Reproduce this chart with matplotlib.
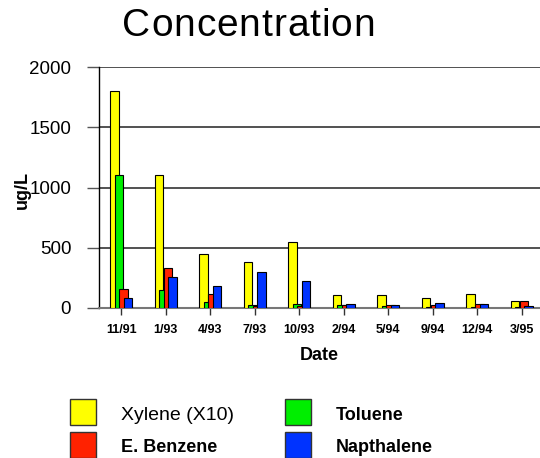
import matplotlib
matplotlib.use("Agg")
import matplotlib.pyplot as plt
from matplotlib.patches import Rectangle
import numpy as np

plt.rcParams['font.family'] = ['Liberation Sans', 'DejaVu Sans']

dates = ["11/91", "1/93", "4/93", "7/93", "10/93", "2/94", "5/94", "9/94", "12/94", "3/95"]
xylene_x10 = [1800, 1100, 450, 380, 550, 110, 110, 85, 120, 60]
toluene = [1100, 150, 50, 25, 30, 25, 20, 10, 10, 10]
ebenzene = [160, 330, 120, 20, 20, 25, 25, 25, 35, 60]
napthalene = [85, 260, 180, 300, 220, 35, 25, 45, 30, 20]

series_names = ["Xylene (X10)", "Toluene", "E. Benzene", "Napthalene"]
colors = ["#FFFF00", "#00EE00", "#FF2200", "#0033FF"]

W, H = 540, 458
fig = plt.figure(figsize=(W / 100, H / 100), dpi=100)
ax = fig.add_axes([99 / W, 1 - 308 / H, 441 / W, 241 / H])

x = np.arange(len(dates))
offsets = [-0.15, -0.05, 0.05, 0.15]
width = 0.19
for vals, off, c in zip([xylene_x10, toluene, ebenzene, napthalene], offsets, colors):
    ax.bar(x + off, vals, width=width, color=c, edgecolor="black", linewidth=0.8, zorder=3)

ax.set_xlim(-0.5, 9.41)
ax.set_ylim(0, 2000)
ax.set_yticks([0, 500, 1000, 1500, 2000])
ax.set_yticklabels(["0", "500", "1000", "1500", "2000"], fontsize=13.5)
ax.set_xticks(x)
ax.set_xticklabels(dates, fontsize=9, fontweight="bold")
ax.tick_params(axis="y", length=9, width=1, color="#555555", pad=11)
ax.tick_params(axis="x", length=5, width=1, color="#333333", pad=6.5)
ax.yaxis.grid(True, color="#333333", linewidth=1.2, zorder=0)
ax.set_axisbelow(True)
for s in ["top", "right"]:
    ax.spines[s].set_visible(False)
ax.spines["left"].set_color("black")
ax.spines["left"].set_linewidth(1)
ax.spines["bottom"].set_color("#777777")
ax.spines["bottom"].set_linewidth(1.5)

fig.text(319 / W, 1 - 356 / H, "Date", fontsize=13, fontweight="bold", ha="center", va="center")
fig.text(22.5 / W, 1 - 190 / H, "ug/L", rotation=90, fontsize=13, fontweight="bold",
         ha="center", va="center")

# title with slightly wide letter spacing
title = "Concentration"
t_left, t_right, t_y = 122, 375, 26
tmp = [fig.text(0, 0, ch, fontsize=28) for ch in title]
renderer = fig.canvas.get_renderer()
widths = [t.get_window_extent(renderer).width for t in tmp]
for t in tmp:
    t.remove()
gap = ((t_right - t_left) - sum(widths)) / (len(title) - 1)
cx = t_left
for ch, w in zip(title, widths):
    fig.text(cx / W, 1 - t_y / H, ch, fontsize=28, ha="left", va="center")
    cx += w + gap

# legend
leg = [
    (70, 399, 0, 415, False, 14),
    (285, 399, 1, 415, True, 13),
    (70, 432, 2, 448, True, 13),
    (285, 432, 3, 448, True, 13),
]
for (px, py, idx, ty, bold, fs) in leg:
    fig.add_artist(Rectangle((px / W, 1 - (py + 26) / H), 26 / W, 26 / H,
                             transform=fig.transFigure, facecolor=colors[idx],
                             edgecolor="#333333", linewidth=1))
    fig.text((px + 51) / W, 1 - ty / H, series_names[idx], fontsize=fs,
             fontweight="bold" if bold else "normal", ha="left", va="center")

fig.savefig("out.png", dpi=100)
